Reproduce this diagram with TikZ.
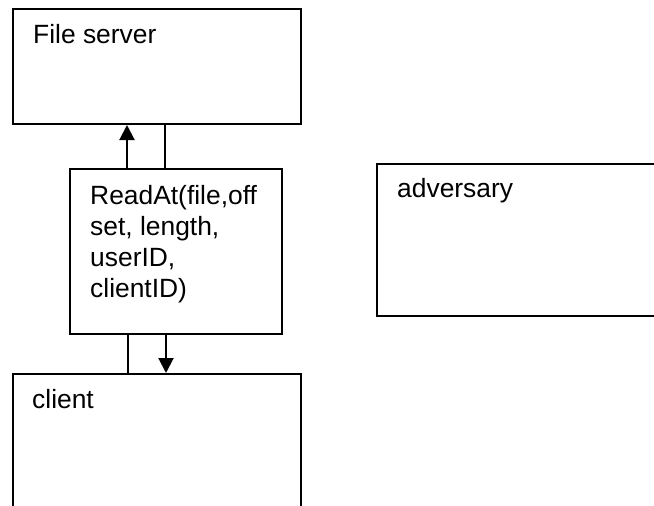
\documentclass[tikz,border=0pt]{standalone}
\usepackage{fontspec}
\setmainfont{Liberation Sans}
\usetikzlibrary{arrows.meta}
\begin{document}
\begin{tikzpicture}[x=1pt,y=-1pt,
  box/.style={draw=black,line width=2pt,rectangle,inner sep=0pt,anchor=north west},
  lbl/.style={inner sep=0pt,anchor=base west,font=\fontsize{26.4}{31}\selectfont},
  link/.style={line width=2pt},
  arr/.style={line width=2pt,-{Triangle[width=15pt,length=15pt]}}]
\useasboundingbox (0,0) rectangle (654,506);
\clip (0,0) rectangle (654,506);
\node[box,minimum width=288pt,minimum height=115pt] (fs) at (12,8) {};
\node[box,minimum width=212pt,minimum height=165pt] (rd) at (69,168) {};
\node[box,minimum width=288pt,minimum height=220pt] (cl) at (12,373) {};
\node[box,minimum width=330pt,minimum height=152pt] (adv) at (376,163) {};
\node[lbl] (fst) at (33,43) {File server};
\node[lbl,align=left] (rdt) at (90,297) {ReadAt(file,off\\set, length,\\userID,\\clientID)};
\node[lbl] (clt) at (32,408) {client};
\node[lbl] (advt) at (397,197) {adversary};
\coordinate (xa) at (127,0);
\coordinate (xb) at (165,0);
\coordinate (xc) at (128,0);
\coordinate (xd) at (166,0);
\draw[arr] (rd.north -| xa) -- (fs.south -| xa);
\draw[link] (fs.south -| xb) -- (rd.north -| xb);
\draw[link] (rd.south -| xc) -- (cl.north -| xc);
\draw[arr] (rd.south -| xd) -- (cl.north -| xd);
\end{tikzpicture}
\end{document}
